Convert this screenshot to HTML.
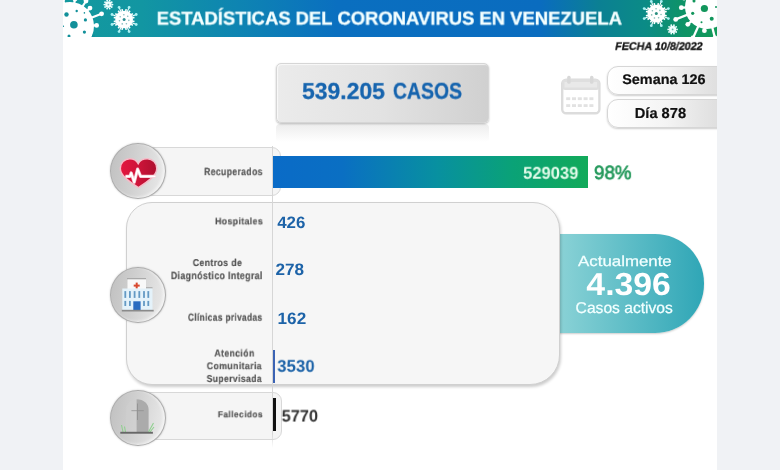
<!DOCTYPE html>
<html><head><meta charset="utf-8">
<style>
*{margin:0;padding:0;box-sizing:border-box}
html,body{width:780px;height:470px;overflow:hidden;background:#f0f2f5;font-family:"Liberation Sans",sans-serif}
.a{position:absolute}
.t{position:absolute;white-space:nowrap;line-height:1;transform-origin:0 0;text-rendering:geometricPrecision;will-change:transform}
#page{left:63px;top:0;width:654px;height:470px;background:#fff;overflow:hidden}
#hdr{left:0;top:0;width:654px;height:36.5px;background:linear-gradient(to right,#13999e 0%,#1296a2 12%,#0e84b2 27%,#0a6fc0 42%,#0a6cbf 73%,#0b8093 82%,#0b8b86 89%,#0e9366 95%,#129a58 100%)}
.circ{width:55.5px;height:56px;border-radius:50%;background:linear-gradient(100deg,#c0c0c0 0%,#cfcfcf 40%,#e2e2e2 80%,#ebebeb 100%);border:1.3px solid #adadad;box-shadow:inset -2px -1px 3px rgba(255,255,255,.55),0 0 2px rgba(0,0,0,.22)}
</style></head><body>
<div id="page" class="a">
  <div id="hdr" class="a"></div>
  <svg class="a" style="left:0;top:0" width="654" height="36.5" viewBox="63 0 654 36.5">
<g>
<line x1="70" y1="26" x2="75" y2="-1" stroke="#ffffff" stroke-width="2.2"/>
<circle cx="75" cy="-1" r="2.4" fill="#ffffff"/>
<line x1="70" y1="26" x2="63" y2="-1" stroke="#ffffff" stroke-width="2.2"/>
<circle cx="63" cy="-1" r="2.4" fill="#ffffff"/>
<line x1="70" y1="26" x2="86" y2="1" stroke="#ffffff" stroke-width="2.2"/>
<circle cx="86" cy="1" r="2.4" fill="#ffffff"/>
<line x1="70" y1="26" x2="90" y2="8.1" stroke="#ffffff" stroke-width="2.2"/>
<circle cx="90" cy="8.1" r="2.4" fill="#ffffff"/>
<line x1="70" y1="26" x2="101.6" y2="13.8" stroke="#ffffff" stroke-width="2.2"/>
<circle cx="101.6" cy="13.8" r="2.4" fill="#ffffff"/>
<line x1="70" y1="26" x2="96.6" y2="25.4" stroke="#ffffff" stroke-width="2.2"/>
<circle cx="96.6" cy="25.4" r="2.4" fill="#ffffff"/>
<circle cx="70" cy="26" r="24" fill="#ffffff"/>
<circle cx="73.9" cy="24.7" r="3.8" fill="#12909a"/>
<circle cx="66.5" cy="14.5" r="2.2" fill="#12909a"/>
<circle cx="85.4" cy="19.9" r="1.6" fill="#12909a"/>
<circle cx="84.4" cy="32.1" r="1.6" fill="#12909a"/>
<circle cx="76.7" cy="11" r="1.2" fill="#12909a"/>
<circle cx="69" cy="36" r="1.5" fill="#12909a"/>
<circle cx="93.4" cy="36" r="1.4" fill="#12909a"/>
<circle cx="84.4" cy="12.9" r="0.8" fill="#12909a"/>
<circle cx="63.3" cy="26.3" r="0.8" fill="#12909a"/>
</g>
<circle cx="124.1" cy="19.5" r="8.8" fill="#ffffff"/>
<line x1="124.1" y1="19.5" x2="134.50" y2="21.57" stroke="#ffffff" stroke-width="1.6"/>
<line x1="124.1" y1="19.5" x2="132.91" y2="25.39" stroke="#ffffff" stroke-width="1.6"/>
<line x1="124.1" y1="19.5" x2="129.99" y2="28.31" stroke="#ffffff" stroke-width="1.6"/>
<line x1="124.1" y1="19.5" x2="126.17" y2="29.90" stroke="#ffffff" stroke-width="1.6"/>
<line x1="124.1" y1="19.5" x2="122.03" y2="29.90" stroke="#ffffff" stroke-width="1.6"/>
<line x1="124.1" y1="19.5" x2="118.21" y2="28.31" stroke="#ffffff" stroke-width="1.6"/>
<line x1="124.1" y1="19.5" x2="115.29" y2="25.39" stroke="#ffffff" stroke-width="1.6"/>
<line x1="124.1" y1="19.5" x2="113.70" y2="21.57" stroke="#ffffff" stroke-width="1.6"/>
<line x1="124.1" y1="19.5" x2="113.70" y2="17.43" stroke="#ffffff" stroke-width="1.6"/>
<line x1="124.1" y1="19.5" x2="115.29" y2="13.61" stroke="#ffffff" stroke-width="1.6"/>
<line x1="124.1" y1="19.5" x2="118.21" y2="10.69" stroke="#ffffff" stroke-width="1.6"/>
<line x1="124.1" y1="19.5" x2="122.03" y2="9.10" stroke="#ffffff" stroke-width="1.6"/>
<line x1="124.1" y1="19.5" x2="126.17" y2="9.10" stroke="#ffffff" stroke-width="1.6"/>
<line x1="124.1" y1="19.5" x2="129.99" y2="10.69" stroke="#ffffff" stroke-width="1.6"/>
<line x1="124.1" y1="19.5" x2="132.91" y2="13.61" stroke="#ffffff" stroke-width="1.6"/>
<line x1="124.1" y1="19.5" x2="134.50" y2="17.43" stroke="#ffffff" stroke-width="1.6"/>
<line x1="124.1" y1="19.5" x2="136.20" y2="24.51" stroke="#ffffff" stroke-width="1.1"/>
<circle cx="136.20" cy="24.51" r="1.4" fill="#a8f2f4"/>
<line x1="124.1" y1="19.5" x2="129.11" y2="31.60" stroke="#ffffff" stroke-width="1.1"/>
<circle cx="129.11" cy="31.60" r="1.4" fill="#a8f2f4"/>
<line x1="124.1" y1="19.5" x2="119.09" y2="31.60" stroke="#ffffff" stroke-width="1.1"/>
<circle cx="119.09" cy="31.60" r="1.4" fill="#a8f2f4"/>
<line x1="124.1" y1="19.5" x2="112.00" y2="24.51" stroke="#ffffff" stroke-width="1.1"/>
<circle cx="112.00" cy="24.51" r="1.4" fill="#a8f2f4"/>
<line x1="124.1" y1="19.5" x2="112.00" y2="14.49" stroke="#ffffff" stroke-width="1.1"/>
<circle cx="112.00" cy="14.49" r="1.4" fill="#a8f2f4"/>
<line x1="124.1" y1="19.5" x2="119.09" y2="7.40" stroke="#ffffff" stroke-width="1.1"/>
<circle cx="119.09" cy="7.40" r="1.4" fill="#a8f2f4"/>
<line x1="124.1" y1="19.5" x2="129.11" y2="7.40" stroke="#ffffff" stroke-width="1.1"/>
<circle cx="129.11" cy="7.40" r="1.4" fill="#a8f2f4"/>
<line x1="124.1" y1="19.5" x2="136.20" y2="14.49" stroke="#ffffff" stroke-width="1.1"/>
<circle cx="136.20" cy="14.49" r="1.4" fill="#a8f2f4"/>
<circle cx="124.1" cy="19.5" r="1.5" fill="#2f8f95"/>
<circle cx="128.83" cy="20.33" r="0.8" fill="#2f8f95" opacity="0.6"/>
<circle cx="126.40" cy="23.72" r="0.8" fill="#2f8f95" opacity="0.6"/>
<circle cx="122.24" cy="23.92" r="0.8" fill="#2f8f95" opacity="0.6"/>
<circle cx="119.48" cy="20.80" r="0.8" fill="#2f8f95" opacity="0.6"/>
<circle cx="120.20" cy="16.70" r="0.8" fill="#2f8f95" opacity="0.6"/>
<circle cx="123.86" cy="14.71" r="0.8" fill="#2f8f95" opacity="0.6"/>
<circle cx="127.70" cy="16.32" r="0.8" fill="#2f8f95" opacity="0.6"/>
<circle cx="108.4" cy="4.6" r="3.3" fill="#effefe"/>
<circle cx="112.50" cy="4.60" r="0.9" fill="#effefe"/>
<circle cx="111.72" cy="7.01" r="0.9" fill="#effefe"/>
<circle cx="109.67" cy="8.50" r="0.9" fill="#effefe"/>
<circle cx="107.13" cy="8.50" r="0.9" fill="#effefe"/>
<circle cx="105.08" cy="7.01" r="0.9" fill="#effefe"/>
<circle cx="104.30" cy="4.60" r="0.9" fill="#effefe"/>
<circle cx="105.08" cy="2.19" r="0.9" fill="#effefe"/>
<circle cx="107.13" cy="0.70" r="0.9" fill="#effefe"/>
<circle cx="109.67" cy="0.70" r="0.9" fill="#effefe"/>
<circle cx="111.72" cy="2.19" r="0.9" fill="#effefe"/>
<circle cx="108.4" cy="4.6" r="0.9" fill="#3a9aa0" opacity="0.7"/>
<circle cx="656.3" cy="13.6" r="8.8" fill="#ffffff"/>
<line x1="656.3" y1="13.6" x2="666.70" y2="15.67" stroke="#ffffff" stroke-width="1.6"/>
<line x1="656.3" y1="13.6" x2="665.11" y2="19.49" stroke="#ffffff" stroke-width="1.6"/>
<line x1="656.3" y1="13.6" x2="662.19" y2="22.41" stroke="#ffffff" stroke-width="1.6"/>
<line x1="656.3" y1="13.6" x2="658.37" y2="24.00" stroke="#ffffff" stroke-width="1.6"/>
<line x1="656.3" y1="13.6" x2="654.23" y2="24.00" stroke="#ffffff" stroke-width="1.6"/>
<line x1="656.3" y1="13.6" x2="650.41" y2="22.41" stroke="#ffffff" stroke-width="1.6"/>
<line x1="656.3" y1="13.6" x2="647.49" y2="19.49" stroke="#ffffff" stroke-width="1.6"/>
<line x1="656.3" y1="13.6" x2="645.90" y2="15.67" stroke="#ffffff" stroke-width="1.6"/>
<line x1="656.3" y1="13.6" x2="645.90" y2="11.53" stroke="#ffffff" stroke-width="1.6"/>
<line x1="656.3" y1="13.6" x2="647.49" y2="7.71" stroke="#ffffff" stroke-width="1.6"/>
<line x1="656.3" y1="13.6" x2="650.41" y2="4.79" stroke="#ffffff" stroke-width="1.6"/>
<line x1="656.3" y1="13.6" x2="654.23" y2="3.20" stroke="#ffffff" stroke-width="1.6"/>
<line x1="656.3" y1="13.6" x2="658.37" y2="3.20" stroke="#ffffff" stroke-width="1.6"/>
<line x1="656.3" y1="13.6" x2="662.19" y2="4.79" stroke="#ffffff" stroke-width="1.6"/>
<line x1="656.3" y1="13.6" x2="665.11" y2="7.71" stroke="#ffffff" stroke-width="1.6"/>
<line x1="656.3" y1="13.6" x2="666.70" y2="11.53" stroke="#ffffff" stroke-width="1.6"/>
<line x1="656.3" y1="13.6" x2="668.40" y2="18.61" stroke="#ffffff" stroke-width="1.1"/>
<circle cx="668.40" cy="18.61" r="1.4" fill="#a8f2f4"/>
<line x1="656.3" y1="13.6" x2="661.31" y2="25.70" stroke="#ffffff" stroke-width="1.1"/>
<circle cx="661.31" cy="25.70" r="1.4" fill="#a8f2f4"/>
<line x1="656.3" y1="13.6" x2="651.29" y2="25.70" stroke="#ffffff" stroke-width="1.1"/>
<circle cx="651.29" cy="25.70" r="1.4" fill="#a8f2f4"/>
<line x1="656.3" y1="13.6" x2="644.20" y2="18.61" stroke="#ffffff" stroke-width="1.1"/>
<circle cx="644.20" cy="18.61" r="1.4" fill="#a8f2f4"/>
<line x1="656.3" y1="13.6" x2="644.20" y2="8.59" stroke="#ffffff" stroke-width="1.1"/>
<circle cx="644.20" cy="8.59" r="1.4" fill="#a8f2f4"/>
<line x1="656.3" y1="13.6" x2="651.29" y2="1.50" stroke="#ffffff" stroke-width="1.1"/>
<circle cx="651.29" cy="1.50" r="1.4" fill="#a8f2f4"/>
<line x1="656.3" y1="13.6" x2="661.31" y2="1.50" stroke="#ffffff" stroke-width="1.1"/>
<circle cx="661.31" cy="1.50" r="1.4" fill="#a8f2f4"/>
<line x1="656.3" y1="13.6" x2="668.40" y2="8.59" stroke="#ffffff" stroke-width="1.1"/>
<circle cx="668.40" cy="8.59" r="1.4" fill="#a8f2f4"/>
<circle cx="656.3" cy="13.6" r="1.5" fill="#2a8f80"/>
<circle cx="661.03" cy="14.43" r="0.8" fill="#2a8f80" opacity="0.6"/>
<circle cx="658.60" cy="17.82" r="0.8" fill="#2a8f80" opacity="0.6"/>
<circle cx="654.44" cy="18.02" r="0.8" fill="#2a8f80" opacity="0.6"/>
<circle cx="651.68" cy="14.90" r="0.8" fill="#2a8f80" opacity="0.6"/>
<circle cx="652.40" cy="10.80" r="0.8" fill="#2a8f80" opacity="0.6"/>
<circle cx="656.06" cy="8.81" r="0.8" fill="#2a8f80" opacity="0.6"/>
<circle cx="659.90" cy="10.42" r="0.8" fill="#2a8f80" opacity="0.6"/>
<circle cx="672.6" cy="29.4" r="3.6" fill="#effefe"/>
<circle cx="677.00" cy="29.40" r="0.9" fill="#effefe"/>
<circle cx="676.16" cy="31.99" r="0.9" fill="#effefe"/>
<circle cx="673.96" cy="33.58" r="0.9" fill="#effefe"/>
<circle cx="671.24" cy="33.58" r="0.9" fill="#effefe"/>
<circle cx="669.04" cy="31.99" r="0.9" fill="#effefe"/>
<circle cx="668.20" cy="29.40" r="0.9" fill="#effefe"/>
<circle cx="669.04" cy="26.81" r="0.9" fill="#effefe"/>
<circle cx="671.24" cy="25.22" r="0.9" fill="#effefe"/>
<circle cx="673.96" cy="25.22" r="0.9" fill="#effefe"/>
<circle cx="676.16" cy="26.81" r="0.9" fill="#effefe"/>
<circle cx="672.6" cy="29.4" r="0.9" fill="#2a9a80" opacity="0.7"/>
<line x1="707" y1="7" x2="681.3" y2="7.7" stroke="#ffffff" stroke-width="2.3"/>
<circle cx="681.3" cy="7.7" r="2.4" fill="#ffffff"/>
<line x1="707" y1="7" x2="675.7" y2="19.4" stroke="#ffffff" stroke-width="2.3"/>
<circle cx="675.7" cy="19.4" r="2.4" fill="#ffffff"/>
<line x1="707" y1="7" x2="687.8" y2="24.3" stroke="#ffffff" stroke-width="2.3"/>
<circle cx="687.8" cy="24.3" r="2.4" fill="#ffffff"/>
<line x1="707" y1="7" x2="693" y2="38" stroke="#ffffff" stroke-width="2.3"/>
<circle cx="693" cy="38" r="2.4" fill="#ffffff"/>
<line x1="707" y1="7" x2="704.4" y2="30.7" stroke="#ffffff" stroke-width="2.3"/>
<circle cx="704.4" cy="30.7" r="2.4" fill="#ffffff"/>
<line x1="707" y1="7" x2="715" y2="38" stroke="#ffffff" stroke-width="2.3"/>
<circle cx="715" cy="38" r="2.4" fill="#ffffff"/>
<line x1="707" y1="7" x2="684" y2="-2" stroke="#ffffff" stroke-width="2.3"/>
<circle cx="684" cy="-2" r="2.4" fill="#ffffff"/>
<circle cx="707" cy="7" r="22" fill="#ffffff"/>
<circle cx="704.4" cy="8.5" r="3.6" fill="#12965c"/>
<circle cx="692.7" cy="13.3" r="1.6" fill="#12965c"/>
<circle cx="711.7" cy="18.8" r="2.0" fill="#12965c"/>
<circle cx="701.5" cy="22.3" r="1.0" fill="#12965c"/>
<circle cx="694" cy="1" r="1.5" fill="#12965c"/>
<circle cx="716" cy="7" r="1.0" fill="#12965c"/>
  </svg>

  <!-- 539 box reflection -->
  <div class="a" style="left:213px;top:124px;width:213px;height:18px;background:linear-gradient(to bottom,rgba(215,215,215,.45),rgba(255,255,255,0));border-radius:4px"></div>
  <div class="a" style="left:212.5px;top:63px;width:213.5px;height:60px;border-radius:5px;background:linear-gradient(to right,#ebebeb 0%,#e2e2e2 50%,#d0d0d0 100%);border:1px solid #d6d6d6;box-shadow:inset 1px 1px 1px rgba(255,255,255,.7),0 1px 2px rgba(0,0,0,.28)"></div>

  <!-- calendar -->
  <svg class="a" style="left:498px;top:75px" width="40" height="40" viewBox="0 0 40 40">
    <rect x="1.2" y="4.6" width="37.2" height="33.6" rx="4" fill="none" stroke="#dcdcdc" stroke-width="2.4"/>
    <rect x="1.2" y="4.6" width="37.2" height="10.5" rx="3" fill="#dfdfdf"/>
    <rect x="3.5" y="7" width="32.6" height="5.5" fill="#e9e9e9"/>
    <rect x="6.2" y="0.8" width="3.4" height="8" rx="1.5" fill="#d8d8d8"/>
    <rect x="29" y="0.8" width="3.4" height="8" rx="1.5" fill="#d8d8d8"/>
    <g fill="#e2e2e2">
      <rect x="5.2" y="22.3" width="4" height="2.8"/><rect x="11" y="22.3" width="4" height="2.8"/><rect x="16.8" y="22.3" width="4" height="2.8"/><rect x="22.6" y="22.3" width="4" height="2.8"/><rect x="28.4" y="22.3" width="4" height="2.8"/>
      <rect x="5.2" y="29.2" width="4" height="2.8"/><rect x="11" y="29.2" width="4" height="2.8"/><rect x="16.8" y="29.2" width="4" height="2.8"/><rect x="22.6" y="29.2" width="4" height="2.8"/><rect x="28.4" y="29.2" width="4" height="2.8"/>
    </g>
  </svg>
  <div class="a" style="left:544px;top:66px;width:130px;height:29px;border-radius:11px 0 0 11px;background:linear-gradient(to right,#ffffff 0%,#f4f4f4 45%,#e4e4e4 75%,#d8d8d8 100%);border:1px solid #d6d6d6;box-shadow:0 1px 2px rgba(0,0,0,.2)"></div>
  <div class="a" style="left:544px;top:99px;width:130px;height:29px;border-radius:11px 0 0 11px;background:linear-gradient(to right,#ffffff 0%,#f4f4f4 45%,#e4e4e4 75%,#d8d8d8 100%);border:1px solid #d6d6d6;box-shadow:0 1px 2px rgba(0,0,0,.2)"></div>

  <!-- vertical axis line -->
  

  <!-- Recuperados -->
  <div class="a" style="left:74px;top:147px;width:144px;height:49px;border-radius:0 9px 9px 0;background:#f5f5f5;border:1px solid #d8d8d8"></div>
  <div class="a" style="left:210px;top:155.5px;width:315.3px;height:32.7px;background:linear-gradient(to right,#0a6bc7 0%,#0a6fc3 22%,#0890a0 52%,#0aa277 76%,#12aa5a 100%)"></div>

  <!-- big box -->
  <div class="a" style="left:495.6px;top:234.3px;width:145.4px;height:98.3px;border-radius:0 49px 49px 0;background:linear-gradient(to right,#8ad2d6 0%,#5cbcc6 50%,#2fa6b6 100%);box-shadow:0 1px 2px rgba(0,0,0,.2)"></div>
  <div class="a" style="left:62.7px;top:202px;width:434px;height:183px;border-radius:26px 27px 30px 26px;background:#f6f6f6;border:1px solid #d0d0d0;box-shadow:1px 2px 3px rgba(0,0,0,.2)"></div>
  
  <div class="a" style="left:210px;top:350px;width:2px;height:33px;background:#3b63b4"></div>

  <!-- Fallecidos -->
  <div class="a" style="left:74px;top:392px;width:145px;height:47.6px;border-radius:0 9px 9px 0;background:#f5f5f5;border:1px solid #d8d8d8"></div>
  <div class="a" style="left:209.9px;top:398px;width:3.3px;height:33px;background:#111"></div>

  <div class="a" style="left:209px;top:146px;width:1px;height:302px;background:linear-gradient(to bottom,#d6d6d6 0%,#d6d6d6 95%,rgba(217,217,217,0) 100%)"></div>
  <!-- circles -->
  <div class="a circ" style="left:47px;top:143px"></div>
  <div class="a circ" style="left:47px;top:267px"></div>
  <div class="a circ" style="left:47px;top:389.5px"></div>

  <!-- heart -->
  <svg class="a" style="left:47px;top:143.5px" width="56" height="56" viewBox="0 0 56 56">
    <defs><linearGradient id="hg" x1="0" y1="0" x2="1" y2="0"><stop offset="0" stop-color="#e3173f"/><stop offset="0.45" stop-color="#d0143a"/><stop offset="1" stop-color="#ad0f2e"/></linearGradient></defs>
    <path d="M28.2 19.6 C26.5 16.5 23.5 14.8 19.8 14.8 C14.5 14.8 10.3 19 10.3 24.5 C10.3 31.5 19 37.5 28.4 43.6 C38 37.5 46.8 31.5 46.8 24.5 C46.8 19 42.5 14.8 37.3 14.8 C33 14.8 29.8 16.5 28.2 19.6 Z" fill="url(#hg)" stroke="#f5bcc8" stroke-width="1.5"/>
    <path d="M15.5 32.3 L20 32.3 L21.2 28.9 L24.2 38.3 L27.6 25.1 L30.6 32.3 L45.5 32.3" fill="none" stroke="#f6c4cf" stroke-width="3.2" stroke-linejoin="round"/>
    <path d="M15.5 32.3 L20 32.3 L21.2 28.9 L24.2 38.3 L27.6 25.1 L30.6 32.3 L45.5 32.3" fill="none" stroke="#ffffff" stroke-width="1.7" stroke-linejoin="round"/>
  </svg>
  <!-- hospital -->
  <svg class="a" style="left:47px;top:267.5px" width="56" height="56" viewBox="0 0 56 56">
    <rect x="17.5" y="11" width="18.5" height="10" fill="#f8f8f8"/>
    <rect x="17" y="10" width="19" height="1.3" fill="#a9a9a9"/>
    <rect x="25.7" y="14.6" width="2" height="6" fill="#d84a30"/><rect x="23.7" y="16.6" width="6" height="2" fill="#d84a30"/>
    <rect x="36" y="19.2" width="6.5" height="1.2" fill="#a9a9a9"/>
    <rect x="12.3" y="20.5" width="30.2" height="21.7" fill="#e4f2fa"/>
    <g fill="#6399c4">
      <rect x="14.4" y="23.1" width="1.8" height="6.8"/><rect x="19" y="23.1" width="1.8" height="6.8"/><rect x="23.7" y="23.1" width="1.8" height="6.8"/><rect x="28.4" y="23.1" width="1.8" height="6.8"/><rect x="33.1" y="23.1" width="1.8" height="6.8"/><rect x="37.4" y="23.1" width="1.8" height="6.8"/>
      <rect x="14.4" y="32.9" width="1.8" height="5.1"/><rect x="19" y="32.9" width="1.8" height="5.1"/><rect x="33.1" y="32.9" width="1.8" height="5.1"/><rect x="37.4" y="32.9" width="1.8" height="5.1"/>
    </g>
    <rect x="23.3" y="33.3" width="7.3" height="8.9" fill="#2a6cc0"/>
    <rect x="11.8" y="41.8" width="31.9" height="1.7" fill="#8a8a8a"/>
  </svg>
  <!-- tombstone -->
  <svg class="a" style="left:47px;top:390px" width="56" height="56" viewBox="0 0 56 56">
    <path d="M16 42 L16 19.5 C16 13 21 9.2 26.6 9.2 L26.6 42 Z" fill="#cfcfcf" opacity="0.6"/>
    <path d="M26.6 42 L26.6 9.2 C33.5 9.2 38.6 13.5 38.6 19.5 L38.6 42 Z" fill="#ababab"/>
    <path d="M27.5 13.5 L27.5 30 M21.4 20.7 L33.8 20.7" stroke="#8c8c8c" stroke-width="0.9" opacity="0.8"/>
    <path d="M13 42 L11.5 35 M15.5 42 L14.5 36.5 M38.5 42 L43.5 33 M40 42 L44 37" stroke="#90d090" stroke-width="1.1"/>
    <rect x="10.3" y="41.8" width="32.6" height="1.9" fill="#676767"/>
  </svg>

<div class="a" style="left:-63px;top:0;width:780px;height:470px">
<div class="t" style="left:156px;top:9px;font-size:18.73px;font-weight:bold;font-style:normal;color:#f4ffff;transform:translate(0.64px,0.51px) scaleX(0.9853);-webkit-text-stroke:0.3px currentColor">ESTADÍSTICAS DEL CORONAVIRUS EN VENEZUELA</div>
<div class="t" style="left:615px;top:41px;font-size:11.04px;font-weight:bold;font-style:italic;color:#111111;transform:translate(0.17px,0.82px) scaleX(0.9749);-webkit-text-stroke:0.3px currentColor">FECHA 10/8/2022</div>
<div class="t" style="left:302px;top:79px;font-size:22.94px;font-weight:bold;font-style:normal;color:#1664ae;transform:translate(0.06px,0.84px) scaleX(0.9971);-webkit-text-stroke:0.3px currentColor">539.205</div>
<div class="t" style="left:392px;top:79px;font-size:22.85px;font-weight:bold;font-style:normal;color:#1664ae;transform:translate(0.91px,0.65px) scaleX(0.8508);-webkit-text-stroke:0.3px currentColor">CASOS</div>
<div class="t" style="left:622px;top:72px;font-size:13.89px;font-weight:bold;font-style:normal;color:#111111;transform:translate(0.14px,0.64px) scaleX(1.0402);-webkit-text-stroke:0.2px currentColor">Semana 126</div>
<div class="t" style="left:634px;top:106px;font-size:14.53px;font-weight:bold;font-style:normal;color:#111111;transform:translate(0.76px,0.60px) scaleX(1.0086);-webkit-text-stroke:0.2px currentColor">Día 878</div>
<div class="t" style="left:204px;top:168px;font-size:10.48px;font-weight:bold;font-style:normal;color:#595959;transform:translate(0.09px,0.17px) scaleX(0.8236);letter-spacing:0.45px;-webkit-text-stroke:0.2px currentColor">Recuperados</div>
<div class="t" style="left:523px;top:164px;font-size:17.13px;font-weight:bold;font-style:normal;color:#e2fbea;transform:translate(0.06px,0.75px) scaleX(0.9697);">529039</div>
<div class="t" style="left:593px;top:164px;font-size:19.22px;font-weight:normal;font-style:normal;color:#22985a;transform:translate(0.99px,0.11px) scaleX(0.9769);-webkit-text-stroke:0.7px currentColor">98%</div>
<div class="t" style="left:215px;top:217px;font-size:9.47px;font-weight:bold;font-style:normal;color:#555555;transform:translate(0.12px,0.33px) scaleX(0.9145);letter-spacing:0.45px;-webkit-text-stroke:0.2px currentColor">Hospitales</div>
<div class="t" style="left:277px;top:214px;font-size:16.50px;font-weight:bold;font-style:normal;color:#1d63a8;transform:translate(0.19px,0.64px) scaleX(1.0249);">426</div>
<div class="t" style="left:192px;top:258px;font-size:9.92px;font-weight:bold;font-style:normal;color:#555555;transform:translate(0.77px,0.95px) scaleX(0.8809);letter-spacing:0.45px;-webkit-text-stroke:0.2px currentColor">Centros de</div>
<div class="t" style="left:170px;top:271px;font-size:10.61px;font-weight:bold;font-style:normal;color:#555555;transform:translate(0.88px,0.18px) scaleX(0.8275);letter-spacing:0.45px;-webkit-text-stroke:0.2px currentColor">Diagnóstico Integral</div>
<div class="t" style="left:275px;top:261px;font-size:16.49px;font-weight:bold;font-style:normal;color:#1d63a8;transform:translate(0.56px,0.74px) scaleX(1.0388);">278</div>
<div class="t" style="left:187px;top:313px;font-size:10.31px;font-weight:bold;font-style:normal;color:#555555;transform:translate(0.91px,0.72px) scaleX(0.8070);letter-spacing:0.45px;-webkit-text-stroke:0.2px currentColor">Clínicas privadas</div>
<div class="t" style="left:277px;top:310px;font-size:16.49px;font-weight:bold;font-style:normal;color:#1d63a8;transform:translate(0.56px,0.69px) scaleX(1.0403);">162</div>
<div class="t" style="left:214px;top:349px;font-size:10.02px;font-weight:bold;font-style:normal;color:#555555;transform:translate(0.39px,0.56px) scaleX(0.8660);letter-spacing:0.45px;-webkit-text-stroke:0.2px currentColor">Atención</div>
<div class="t" style="left:206px;top:362px;font-size:9.78px;font-weight:bold;font-style:normal;color:#555555;transform:translate(0.77px,0.13px) scaleX(0.8919);letter-spacing:0.45px;-webkit-text-stroke:0.2px currentColor">Comunitaria</div>
<div class="t" style="left:206px;top:374px;font-size:9.92px;font-weight:bold;font-style:normal;color:#555555;transform:translate(0.64px,0.93px) scaleX(0.8660);letter-spacing:0.45px;-webkit-text-stroke:0.2px currentColor">Supervisada</div>
<div class="t" style="left:277px;top:357px;font-size:17.02px;font-weight:bold;font-style:normal;color:#1d63a8;transform:translate(0.21px,0.71px) scaleX(0.9856);">3530</div>
<div class="t" style="left:578px;top:254px;font-size:14.57px;font-weight:normal;font-style:normal;color:#f2ffff;transform:translate(0.08px,0.62px) scaleX(1.1567);-webkit-text-stroke:0.25px currentColor">Actualmente</div>
<div class="t" style="left:586px;top:268px;font-size:31.78px;font-weight:bold;font-style:normal;color:#ffffff;transform:translate(0.37px,0.69px) scaleX(1.0623);">4.396</div>
<div class="t" style="left:575px;top:300px;font-size:15.57px;font-weight:normal;font-style:normal;color:#f2ffff;transform:translate(0.62px,0.61px) scaleX(1.0029);-webkit-text-stroke:0.25px currentColor">Casos activos</div>
<div class="t" style="left:217px;top:410px;font-size:8.72px;font-weight:bold;font-style:normal;color:#555555;transform:translate(0.85px,0.26px) scaleX(0.9595);letter-spacing:0.45px;-webkit-text-stroke:0.2px currentColor">Fallecidos</div>
<div class="t" style="left:281px;top:408px;font-size:16.69px;font-weight:bold;font-style:normal;color:#333333;transform:translate(0.64px,0.54px) scaleX(0.9833);">5770</div>
</div>
</div>
</body></html>
